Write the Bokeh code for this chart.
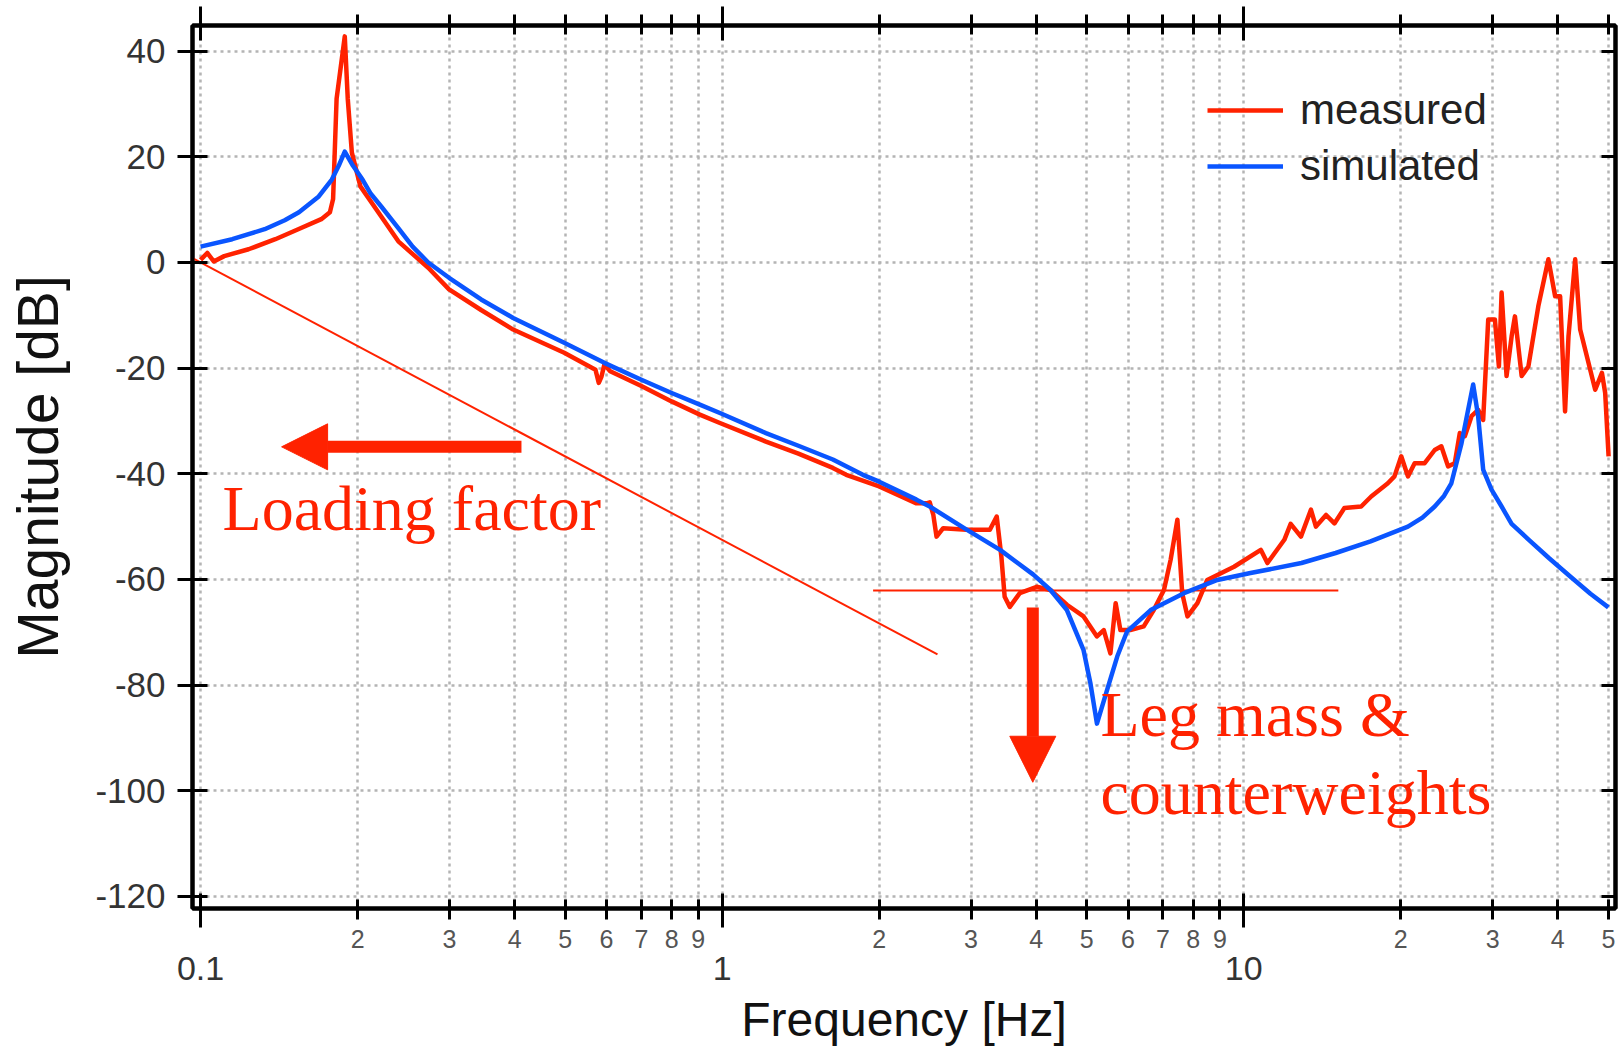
from bokeh.plotting import figure
from bokeh.models import (LogAxis, LinearAxis, FixedTicker, Grid, Legend, LegendItem,
                          Arrow, NormalHead, Label, Range1d)
from bokeh.embed import file_html
from bokeh.resources import INLINE

# ---------------- data ----------------
freq_measured = [0.1, 0.103, 0.106, 0.111, 0.1236, 0.1391, 0.1539, 0.1704, 0.177, 0.1795,
                 0.1823, 0.189, 0.1915, 0.195, 0.2025, 0.222, 0.2394, 0.2732, 0.2995, 0.345,
                 0.3974, 0.4979, 0.5716, 0.580, 0.587, 0.5945, 0.61, 0.70, 0.80, 0.906,
                 0.99, 1.213, 1.4, 1.63, 1.729, 2.0, 2.358, 2.465, 2.50, 2.54,
                 2.576, 2.653, 2.94, 3.26, 3.36, 3.43, 3.48, 3.56, 3.72, 4.01,
                 4.26, 4.58, 4.93, 5.23, 5.39, 5.55, 5.68, 5.80, 6.06, 6.43,
                 6.72, 7.03, 7.24, 7.46, 7.62, 7.80, 8.15, 8.51, 9.58, 10.78,
                 11.1, 11.96, 12.3, 12.87, 13.45, 13.75, 14.38, 14.92, 15.59, 16.79,
                 17.55, 18.89, 19.45, 20.04, 20.64, 21.26, 22.22, 23.23, 23.92, 24.64,
                 25.38, 25.95, 26.53, 27.33, 28.14, 28.77, 29.42, 30.30, 30.84, 31.21,
                 31.90, 32.62, 33.10, 34.10, 35.12, 36.70, 38.37, 39.53, 40.41, 41.30,
                 41.93, 43.19, 44.15, 47.18, 48.6, 49.3, 50.05]
mag_measured = [0.5, 1.8, 0.2, 1.2, 2.5, 4.4, 6.3, 8.2, 9.5, 12.0,
                31.0, 42.8, 31.0, 20.8, 14.4, 8.7, 4.0, -1.0, -5.1, -9.0,
                -12.7, -17.1, -20.3, -22.8, -21.6, -19.3, -20.6, -23.4, -26.3, -28.8,
                -30.4, -33.9, -36.2, -38.9, -40.2, -42.4, -45.6, -45.6, -45.4, -47.8,
                -51.9, -50.3, -50.6, -50.6, -48.1, -55.7, -63.3, -65.2, -62.6, -61.4,
                -62.0, -64.8, -67.0, -70.8, -69.6, -74.0, -64.5, -69.6, -69.6, -68.9,
                -65.8, -62.0, -56.3, -48.7, -62.6, -67.0, -64.5, -60.1, -57.6, -54.4,
                -56.9, -52.5, -49.5, -51.9, -46.8, -50.0, -47.8, -49.4, -46.5, -46.2,
                -44.3, -41.8, -40.5, -36.7, -40.5, -38.0, -38.0, -35.5, -34.8, -38.6,
                -38.0, -32.3, -32.9, -29.1, -27.9, -29.8, -10.8, -10.8, -19.7, -5.7,
                -21.5, -14.0, -10.2, -21.5, -19.7, -8.3, 0.6, -6.4, -6.4, -28.2,
                -14.0, 0.6, -12.7, -24.1, -20.9, -24.7, -36.7]

freq_simulated = [0.1, 0.115, 0.1327, 0.145, 0.1544, 0.1685, 0.1785, 0.184, 0.189, 0.196,
                  0.2044, 0.212, 0.222, 0.2394, 0.255, 0.2732, 0.2995, 0.345, 0.3974, 0.4979,
                  0.5944, 0.70, 0.80, 0.906, 0.99, 1.213, 1.4, 1.63, 1.861, 2.0,
                  2.358, 2.50, 2.9, 3.41, 3.95, 4.26, 4.58, 4.93, 5.08, 5.23,
                  5.47, 5.72, 5.97, 6.63, 7.68, 8.90, 10.3, 12.9, 15.0, 17.5,
                  20.64, 22.0, 23.23, 24.2, 25.0, 26.15, 26.92, 27.53, 28.14, 28.77,
                  29.85, 31.21, 32.62, 35.2, 38.5, 42.2, 46.2, 50.0]
mag_simulated = [3.0, 4.4, 6.3, 8.0, 9.5, 12.5, 15.7, 18.3, 21.0, 18.3,
                 15.7, 13.0, 10.6, 6.5, 3.0, 0.0, -2.9, -7.0, -10.5, -15.2,
                 -19.0, -22.2, -24.7, -26.9, -28.5, -32.3, -34.7, -37.3, -40.2, -41.5,
                 -44.9, -46.2, -50.2, -54.4, -59.1, -62.0, -65.8, -73.4, -79.6, -87.3,
                 -80.9, -74.6, -69.9, -65.8, -62.6, -60.1, -58.8, -56.9, -55.0, -52.8,
                 -50.0, -48.3, -46.2, -44.2, -41.8, -34.2, -27.9, -23.1, -29.1, -39.2,
                 -43.0, -46.2, -49.5, -52.5, -56.0, -59.4, -62.7, -65.3]

y_ticks = [-120, -100, -80, -60, -40, -20, 0, 20, 40]
y_tick_labels = ["-120", "-100", "-80", "-60", "-40", "-20", "0", "20", "40"]
x_decades = [0.1, 1, 10]
decade_labels = ["0.1", "1", "10"]
x_minor = [0.2, 0.3, 0.4, 0.5, 0.6, 0.7, 0.8, 0.9,
           2, 3, 4, 5, 6, 7, 8, 9,
           20, 30, 40, 50]
minor_labels = ["2", "3", "4", "5", "6", "7", "8", "9",
                "2", "3", "4", "5", "6", "7", "8", "9",
                "2", "3", "4", "5"]

series_names = ["measured", "simulated"]

# annotation geometry (data units)
loading_line_x = [0.0936, 2.587]
loading_line_y = [1.5, -74.2]
leg_line_x = [1.947, 15.18]
leg_line_y = [-62.1, -62.1]
loading_arrow = dict(x_start=0.4123, y_start=-34.9, x_end=0.143, y_end=-34.9)
leg_arrow = dict(x_start=3.94, y_start=-65.3, x_end=3.94, y_end=-98.4)
texts = [("Loading factor", 0.1102, -46.6),
         ("Leg mass &", 5.31, -85.6),
         ("counterweights", 5.31, -100.4)]

RED = "#ff2200"
BLUE = "#0a55ff"
SANS = "Liberation Sans"

p = figure(width=1619, height=1057, x_axis_type="log",
           x_range=Range1d(0.0965, 51.6), y_range=Range1d(-122.3, 44.86),
           x_axis_location=None, y_axis_location=None,
           toolbar_location=None, output_backend="svg",
           min_border_left=192, min_border_right=4, min_border_top=25, min_border_bottom=149)
p.grid.visible = False
p.outline_line_color = "black"
p.outline_line_width = 4
p.background_fill_color = "white"
p.border_fill_color = "white"

# grids
all_x = sorted(x_decades + x_minor)
xg = Grid(dimension=0, ticker=FixedTicker(ticks=all_x), grid_line_color="#b4b4b4",
          grid_line_width=2.5, grid_line_dash="3 4")
yg = Grid(dimension=1, ticker=FixedTicker(ticks=y_ticks), grid_line_color="#b4b4b4",
          grid_line_width=2.5, grid_line_dash="3 4")
p.add_layout(xg)
p.add_layout(yg)

# bottom axis 1: minor positions labelled, decades as long minor ticks
ax1 = LogAxis(ticker=FixedTicker(ticks=x_minor, minor_ticks=x_decades),
              major_label_overrides={v: s for v, s in zip(x_minor, minor_labels)},
              axis_line_width=4, axis_line_color="black",
              major_tick_in=9, major_tick_out=11, major_tick_line_width=3,
              minor_tick_in=15, minor_tick_out=19, minor_tick_line_width=3,
              major_label_text_font=SANS, major_label_text_font_size="25px",
              major_label_text_color="#555555", major_label_standoff=2)
p.add_layout(ax1, "below")

# bottom axis 2: decade labels + title
ax2 = LogAxis(ticker=FixedTicker(ticks=x_decades, minor_ticks=[]),
              major_label_overrides={v: s for v, s in zip(x_decades, decade_labels)},
              axis_line_color=None, major_tick_line_color=None, minor_tick_line_color=None,
              major_tick_in=0, major_tick_out=0, minor_tick_in=0, minor_tick_out=0,
              major_label_text_font=SANS, major_label_text_font_size="34px",
              major_label_text_color="#333333", major_label_standoff=6,
              axis_label="Frequency [Hz]", axis_label_text_font=SANS,
              axis_label_text_font_size="48px", axis_label_text_font_style="normal",
              axis_label_text_color="#111111", axis_label_standoff=10)
p.add_layout(ax2, "below")

# top axis (ticks only)
ax_top = LogAxis(ticker=FixedTicker(ticks=x_minor, minor_ticks=x_decades),
                 major_label_overrides={v: "" for v in x_minor},
                 axis_line_width=4, axis_line_color="black",
                 major_tick_in=9, major_tick_out=11, major_tick_line_width=3,
                 minor_tick_in=15, minor_tick_out=19, minor_tick_line_width=3,
                 major_label_text_font_size="0px", major_label_standoff=0)
p.add_layout(ax_top, "above")

# left axis
ax_left = LinearAxis(ticker=FixedTicker(ticks=y_ticks, minor_ticks=[]),
                     major_label_overrides={v: s for v, s in zip(y_ticks, y_tick_labels)},
                     axis_line_width=4, axis_line_color="black",
                     major_tick_in=15, major_tick_out=15, major_tick_line_width=3,
                     minor_tick_line_color=None,
                     major_label_text_font=SANS, major_label_text_font_size="35px",
                     major_label_text_color="#333333", major_label_standoff=12,
                     axis_label="Magnitude [dB]", axis_label_text_font=SANS,
                     axis_label_text_font_size="57px", axis_label_text_font_style="normal",
                     axis_label_text_color="#111111", axis_label_standoff=22)
p.add_layout(ax_left, "left")

# right axis (ticks only)
ax_right = LinearAxis(ticker=FixedTicker(ticks=y_ticks, minor_ticks=[]),
                      major_label_overrides={v: "" for v in y_ticks},
                      axis_line_width=4, axis_line_color="black",
                      major_tick_in=14, major_tick_out=0, major_tick_line_width=3,
                      minor_tick_line_color=None,
                      major_label_text_font_size="0px", major_label_standoff=0)
p.add_layout(ax_right, "right")

# annotation thin lines
p.line(loading_line_x, loading_line_y, line_color=RED, line_width=2)
p.line(leg_line_x, leg_line_y, line_color=RED, line_width=2)

# data
r_meas = p.line(freq_measured, mag_measured, line_color=RED, line_width=4.5, line_join="round")
r_sim = p.line(freq_simulated, mag_simulated, line_color=BLUE, line_width=4.5, line_join="round")

# arrows
for a in (loading_arrow, leg_arrow):
    p.add_layout(Arrow(end=NormalHead(size=46, fill_color=RED, line_color=RED, line_width=1),
                       line_color=RED, line_width=12, **a))

for t, x, y in texts:
    p.add_layout(Label(x=x, y=y, text=t, text_font="Liberation Serif", text_font_size="64px",
                       text_color=RED, text_baseline="alphabetic", text_align="left"))

legend = Legend(items=[LegendItem(label=series_names[0], renderers=[r_meas]),
                       LegendItem(label=series_names[1], renderers=[r_sim])],
                location=(1015, 714), border_line_color=None, background_fill_alpha=0,
                label_text_font=SANS, label_text_font_size="42px", label_text_color="#222222",
                glyph_width=76, glyph_height=56, label_height=56, label_standoff=17,
                spacing=0, padding=0, margin=0)
p.add_layout(legend, "center")

open("out.html", "w").write(file_html(p, INLINE))
